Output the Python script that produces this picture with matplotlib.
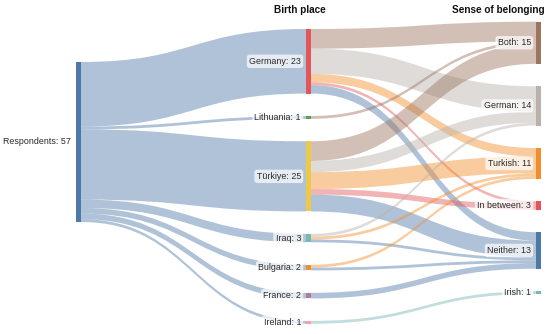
import matplotlib
matplotlib.use("Agg")
import matplotlib.pyplot as plt
from matplotlib.path import Path
from matplotlib.patches import PathPatch, Rectangle
from matplotlib.colors import to_rgba

# Daten
quelle = "Respondents"
geburtsorte = ["Germany", "Lithuania", "Türkiye", "Iraq", "Bulgaria", "France", "Ireland"]
zugehoerigkeit = ["Both", "German", "Turkish", "In between", "Neither", "Irish"]

# Flüsse Geburtsort -> Zugehörigkeit (Spalten wie zugehoerigkeit)
fluss_germany = [7, 9, 3, 1, 3, 0]
fluss_lithuania = [1, 0, 0, 0, 0, 0]
fluss_tuerkiye = [7, 4, 6, 2, 6, 0]
fluss_iraq = [0, 1, 1, 0, 1, 0]
fluss_bulgaria = [0, 0, 1, 0, 1, 0]
fluss_france = [0, 0, 0, 0, 2, 0]
fluss_ireland = [0, 0, 0, 0, 0, 1]

farbe_quelle = "#4e79a7"
farben_geburt = ["#e15759", "#59a14f", "#edc948", "#76b7b2", "#f28e2b", "#b07aa1", "#ff9da7"]
farben_zugeh = ["#9c755f", "#bab0ac", "#f28e2b", "#e15759", "#4e79a7", "#76b7b2"]

fluesse = [fluss_germany, fluss_lithuania, fluss_tuerkiye, fluss_iraq,
           fluss_bulgaria, fluss_france, fluss_ireland]
n_geburt = [sum(f) for f in fluesse]
n_zugeh = [sum(f[j] for f in fluesse) for j in range(len(zugehoerigkeit))]
n_gesamt = sum(n_geburt)

# Layout (Pixel)
k = 2.807          # Pixel pro Person
luecke = 8 * k     # Abstand zwischen Knoten
breite = 5
x_spalten = [76, 306, 536]
oben_spalten = [62, 29, 21.7]
alpha_link = 0.45

plt.rcParams["font.family"] = ["Liberation Sans", "DejaVu Sans"]

fig = plt.figure(figsize=(5.5, 3.34), dpi=100)
ax = fig.add_axes([0, 0, 1, 1])
ax.set_xlim(0, 550)
ax.set_ylim(334, 0)
ax.axis("off")


def knoten_pos(werte, oben):
    pos = []
    y = oben
    for w in werte:
        pos.append(y)
        y += w * k + luecke
    return pos


y_quelle = oben_spalten[0]
y_geburt = knoten_pos(n_geburt, oben_spalten[1])
y_zugeh = knoten_pos(n_zugeh, oben_spalten[2])


def link(x0, y0, x1, y1, h, farbe):
    xm = (x0 + x1) / 2
    verts = [(x0, y0), (xm, y0), (xm, y1), (x1, y1),
             (x1, y1 + h), (xm, y1 + h), (xm, y0 + h), (x0, y0 + h), (x0, y0)]
    codes = [Path.MOVETO, Path.CURVE4, Path.CURVE4, Path.CURVE4,
             Path.LINETO, Path.CURVE4, Path.CURVE4, Path.CURVE4, Path.CLOSEPOLY]
    ax.add_patch(PathPatch(Path(verts, codes), fc=to_rgba(farbe, alpha_link),
                           ec="none", zorder=1))


# Links Befragte -> Geburtsort
y_aus = y_quelle
for i, n in enumerate(n_geburt):
    link(x_spalten[0] + breite, y_aus, x_spalten[1], y_geburt[i], n * k, farbe_quelle)
    y_aus += n * k

# Links Geburtsort -> Zugehörigkeit
y_ein = list(y_zugeh)
for i, f in enumerate(fluesse):
    y_aus = y_geburt[i]
    for j, n in enumerate(f):
        if n == 0:
            continue
        link(x_spalten[1] + breite, y_aus, x_spalten[2], y_ein[j], n * k, farben_zugeh[j])
        y_aus += n * k
        y_ein[j] += n * k


def knoten(x, y, n, farbe, text):
    ax.add_patch(Rectangle((x, y), breite, n * k, fc=farbe, ec="none", zorder=2))
    ax.text(x - 5, y + n * k / 2, f"{text}: {n}", ha="right", va="center",
            fontsize=6.4, color="#2a2a2a", zorder=3,
            bbox=dict(boxstyle="round,pad=0.25,rounding_size=0.3",
                      fc=(1, 1, 1, 0.7), ec="none"))


knoten(x_spalten[0], y_quelle, n_gesamt, farbe_quelle, quelle)
for i, name in enumerate(geburtsorte):
    knoten(x_spalten[1], y_geburt[i], n_geburt[i], farben_geburt[i], name)
for j, name in enumerate(zugehoerigkeit):
    knoten(x_spalten[2], y_zugeh[j], n_zugeh[j], farben_zugeh[j], name)

# Spaltentitel
ax.text(300, 10, "Birth place", ha="center", va="center", fontsize=7.2,
        fontweight="bold", color="#111")
ax.text(545, 10, "Sense of belonging", ha="right", va="center", fontsize=7.2,
        fontweight="bold", color="#111")

fig.savefig("out.png", dpi=100)
